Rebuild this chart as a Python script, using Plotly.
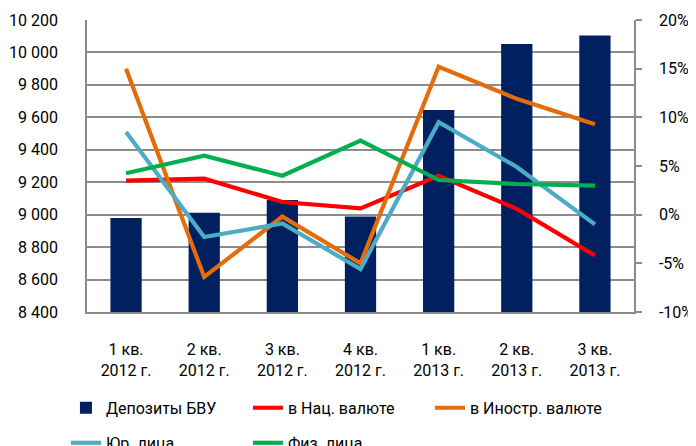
import plotly.graph_objects as go

categories = ["1 кв.<br>2012 г.", "2 кв.<br>2012 г.", "3 кв.<br>2012 г.", "4 кв.<br>2012 г.",
              "1 кв.<br>2013 г.", "2 кв.<br>2013 г.", "3 кв.<br>2013 г."]
deposits = [8980, 9012, 9090, 8988, 9645, 10052, 10105]
nat_currency = [3.5, 3.7, 1.3, 0.65, 4.0, 0.6, -4.2]
foreign_currency = [15.0, -6.4, -0.2, -5.0, 15.2, 11.9, 9.3]
legal_entities = [8.5, -2.3, -0.9, -5.6, 9.5, 4.9, -1.0]
individuals = [4.25, 6.06, 4.0, 7.6, 3.56, 3.15, 2.98]

left_tickvals = [8400, 8600, 8800, 9000, 9200, 9400, 9600, 9800, 10000, 10200]
right_tickvals = [-10, -5, 0, 5, 10, 15, 20]
right_ticktext = ["-10%", "-5%", "0%", "5%", "10%", "15%", "20%"]

FONT = "Roboto, 'Open Sans', sans-serif"
GRID = "#8c8c8c"

fig = go.Figure()
fig.add_trace(go.Bar(x=categories, y=deposits, name="Депозиты БВУ",
                     marker=dict(color="#002060", line=dict(width=0)),
                     width=0.4, legend="legend"))
lines = [
    ("в Нац. валюте", nat_currency, "#ff0000", "legend"),
    ("в Иностр. валюте", foreign_currency, "#e46c0a", "legend"),
    ("Юр. лица", legal_entities, "#4bacc6", "legend2"),
    ("Физ. лица", individuals, "#00b050", "legend2"),
]
for name, vals, color, lg in lines:
    fig.add_trace(go.Scatter(x=categories, y=vals, name=name, mode="lines",
                             line=dict(color=color, width=4.2), yaxis="y2", legend=lg))

fig.update_layout(
    width=688, height=438,
    margin=dict(l=79, r=62, t=12, b=134, autoexpand=False),
    plot_bgcolor="white", paper_bgcolor="white",
    font=dict(family=FONT, size=16, color="#000000"),
    separators=", ",
    xaxis=dict(showline=True, linecolor=GRID, linewidth=1.5, ticks="",
               ticklabelstandoff=22, tickfont=dict(size=16)),
    yaxis=dict(range=[8400, 10200], tickvals=left_tickvals, tickformat=",d",
               showgrid=True, gridcolor=GRID, gridwidth=1.5,
               showline=True, linecolor=GRID, linewidth=1.5,
               ticks="", ticklabelstandoff=24, zeroline=False),
    yaxis2=dict(range=[-10, 20], tickvals=right_tickvals, ticktext=right_ticktext,
                overlaying="y", side="right", showgrid=False, zeroline=False,
                showline=True, linecolor=GRID, linewidth=1.5,
                ticks="outside", ticklen=6, tickcolor=GRID, tickwidth=1.5,
                ticklabelstandoff=14),
    legend=dict(orientation="h", x=-0.0385, y=-0.27, xanchor="left", yanchor="top",
                entrywidth=137, entrywidthmode="pixels",
                font=dict(size=16), bgcolor="rgba(0,0,0,0)"),
    legend2=dict(orientation="h", x=-0.0385, y=-0.39, xanchor="left", yanchor="top",
                 entrywidth=137, entrywidthmode="pixels",
                 font=dict(size=16), bgcolor="rgba(0,0,0,0)"),
)

fig.write_html("out.html")
